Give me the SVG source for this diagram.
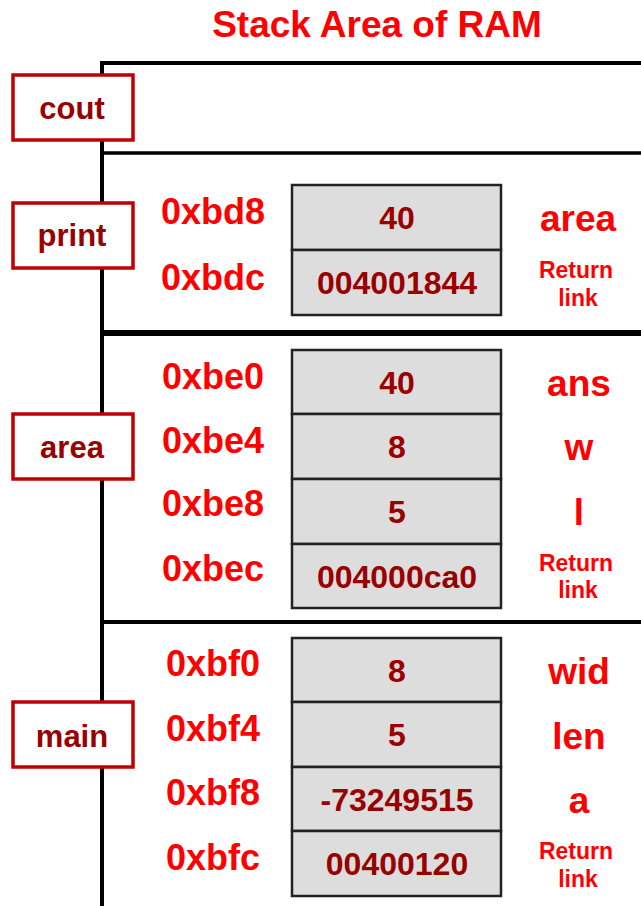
<svg xmlns="http://www.w3.org/2000/svg" width="641" height="906" viewBox="0 0 641 906">
  <style>
    text { font-family: "Liberation Sans", Arial, sans-serif; font-weight: bold; }
    .title { font-size: 37px; fill: #ff0000; text-anchor: middle; }
    .fname { font-size: 31px; fill: #990000; text-anchor: middle; }
    .fbox { fill: #ffffff; stroke: #c00000; stroke-width: 3.5; }
    .addr { font-size: 36px; fill: #ff0000; text-anchor: middle; }
    .cell { fill: #dddddd; stroke: #222222; stroke-width: 2.5; }
    .val { font-size: 32px; fill: #990000; text-anchor: middle; }
    .var { font-size: 37px; fill: #ff0000; text-anchor: middle; }
    .ret { font-size: 23px; fill: #ff0000; text-anchor: middle; }
    .frame { stroke: #000000; fill: none; }
  </style>

  <text class="title" x="377" y="37">Stack Area of RAM</text>

  <!-- stack frame outline -->
  <g id="stack-lines">
    <line class="frame" x1="102" y1="61" x2="102" y2="906" stroke-width="4"/>
    <line class="frame" x1="100" y1="63" x2="641" y2="63" stroke-width="4"/>
    <line class="frame" x1="100" y1="153" x2="641" y2="153" stroke-width="3.5"/>
    <line class="frame" x1="100" y1="333" x2="641" y2="333" stroke-width="6"/>
    <line class="frame" x1="100" y1="622" x2="641" y2="622" stroke-width="4"/>
  </g>

  <!-- cout frame -->
  <g id="frame-cout">
    <rect class="fbox" x="13" y="75" width="120" height="65"/>
    <text class="fname" x="72" y="119">cout</text>
  </g>

  <!-- print frame -->
  <g id="frame-print">
    <rect class="fbox" x="13" y="203" width="120" height="65"/>
    <text class="fname" x="72" y="246">print</text>
    <text class="addr" x="213" y="224">0xbd8</text>
    <text class="addr" x="213" y="290">0xbdc</text>
    <rect class="cell" x="292" y="185" width="209" height="65"/>
    <rect class="cell" x="292" y="250" width="209" height="65"/>
    <text class="val" x="397" y="229">40</text>
    <text class="val" x="397" y="294">004001844</text>
    <text class="var" x="578" y="231">area</text>
    <text class="ret" x="576" y="278">Return</text>
    <text class="ret" x="578" y="306">link</text>
  </g>

  <!-- area frame -->
  <g id="frame-area">
    <rect class="fbox" x="13" y="414" width="120" height="65"/>
    <text class="fname" x="72" y="458">area</text>
    <text class="addr" x="213" y="389">0xbe0</text>
    <text class="addr" x="213" y="453">0xbe4</text>
    <text class="addr" x="213" y="516">0xbe8</text>
    <text class="addr" x="213" y="581">0xbec</text>
    <rect class="cell" x="292" y="350" width="209" height="64"/>
    <rect class="cell" x="292" y="414" width="209" height="65"/>
    <rect class="cell" x="292" y="479" width="209" height="65"/>
    <rect class="cell" x="292" y="544" width="209" height="64"/>
    <text class="val" x="397" y="394">40</text>
    <text class="val" x="397" y="458">8</text>
    <text class="val" x="397" y="523">5</text>
    <text class="val" x="397" y="588">004000ca0</text>
    <text class="var" x="579" y="396">ans</text>
    <text class="var" x="579" y="460">w</text>
    <text class="var" x="579" y="525">l</text>
    <text class="ret" x="576" y="571">Return</text>
    <text class="ret" x="578" y="598">link</text>
  </g>

  <!-- main frame -->
  <g id="frame-main">
    <rect class="fbox" x="13" y="702" width="120" height="65"/>
    <text class="fname" x="72" y="747">main</text>
    <text class="addr" x="213" y="676">0xbf0</text>
    <text class="addr" x="213" y="741">0xbf4</text>
    <text class="addr" x="213" y="805">0xbf8</text>
    <text class="addr" x="213" y="870">0xbfc</text>
    <rect class="cell" x="292" y="638" width="209" height="64"/>
    <rect class="cell" x="292" y="702" width="209" height="65"/>
    <rect class="cell" x="292" y="767" width="209" height="64"/>
    <rect class="cell" x="292" y="831" width="209" height="65"/>
    <text class="val" x="397" y="682">8</text>
    <text class="val" x="397" y="746">5</text>
    <text class="val" x="397" y="811">-73249515</text>
    <text class="val" x="397" y="875">00400120</text>
    <text class="var" x="579" y="684">wid</text>
    <text class="var" x="579" y="749">len</text>
    <text class="var" x="579" y="813">a</text>
    <text class="ret" x="576" y="859">Return</text>
    <text class="ret" x="578" y="887">link</text>
  </g>
</svg>
